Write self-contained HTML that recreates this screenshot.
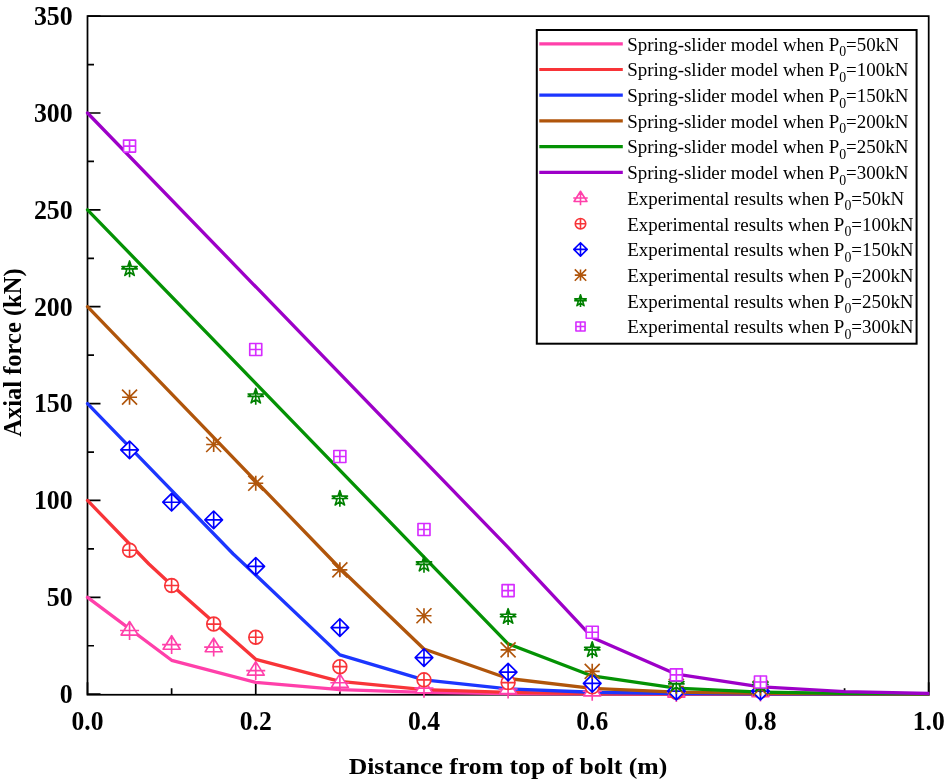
<!DOCTYPE html>
<html lang="en"><head><meta charset="utf-8"><title>Axial force vs distance from top of bolt</title>
<style>
html,body{margin:0;padding:0;background:#fff}
body{width:944px;height:782px;overflow:hidden}
svg{display:block}
text{font-family:"Liberation Serif","Times New Roman",Times,serif;fill:#000}
.tk{font-weight:bold;font-size:27.1px}
.ttl{font-weight:bold;font-size:24px}
.ytl{font-weight:bold;font-size:24.5px}
.lg{font-size:18.95px}
.sub{font-size:13.8px}
</style></head><body>
<svg width="944" height="782" viewBox="0 0 944 782">
<rect x="0" y="0" width="944" height="782" fill="#fff"/>
<rect x="87.5" y="16.11" width="841.2" height="678.64" fill="none" stroke="#000" stroke-width="1.75"/>
<path d="M87.5 694.2h13M87.5 645.77h6.5M87.5 597.33h13M87.5 548.89h6.5M87.5 500.46h13M87.5 452.03h6.5M87.5 403.59h13M87.5 355.16h6.5M87.5 306.72h13M87.5 258.29h6.5M87.5 209.85h13M87.5 161.42h6.5M87.5 112.98h13M87.5 64.55h6.5M87.5 16.11h13M87.5 694.75v-12.6M171.62 694.75v-6.6M255.74 694.75v-12.6M339.86 694.75v-6.6M423.98 694.75v-12.6M508.1 694.75v-6.6M592.22 694.75v-12.6M676.34 694.75v-6.6M760.46 694.75v-12.6M844.58 694.75v-6.6M928.7 694.75v-12.6" stroke="#000" stroke-width="1.7" fill="none"/>
<g class="tk" text-anchor="end"><text transform="translate(72.7 703.05) scale(0.955 1)">0</text><text transform="translate(72.7 606.18) scale(0.955 1)">50</text><text transform="translate(72.7 509.31) scale(0.955 1)">100</text><text transform="translate(72.7 412.44) scale(0.955 1)">150</text><text transform="translate(72.7 315.57) scale(0.955 1)">200</text><text transform="translate(72.7 218.7) scale(0.955 1)">250</text><text transform="translate(72.7 121.83) scale(0.955 1)">300</text><text transform="translate(72.7 24.96) scale(0.955 1)">350</text></g>
<g class="tk" text-anchor="middle"><text transform="translate(87.5 729.5) scale(0.945 1)">0.0</text><text transform="translate(255.74 729.5) scale(0.945 1)">0.2</text><text transform="translate(423.98 729.5) scale(0.945 1)">0.4</text><text transform="translate(592.22 729.5) scale(0.945 1)">0.6</text><text transform="translate(760.46 729.5) scale(0.945 1)">0.8</text><text transform="translate(928.7 729.5) scale(0.945 1)">1.0</text></g>
<text class="ttl" text-anchor="middle" transform="translate(508 773.9) scale(1.072 1)">Distance from top of bolt (m)</text>
<text class="ytl" text-anchor="middle" transform="translate(21.3 352.6) rotate(-90)">Axial force (kN)</text>
<clipPath id="pc"><rect x="80" y="0" width="849.5" height="782"/></clipPath>
<g fill="none" stroke-width="3.3" stroke-linejoin="round" stroke-linecap="round" clip-path="url(#pc)"><path d="M87.5 597.33L171.62 660.3L255.74 682.38L339.86 689.55L423.98 692.46L508.1 693.56L592.22 693.97L676.34 694.1L760.46 694.16L844.58 694.2L928.7 694.2" stroke="#FF40AA"/><path d="M87.5 500.46L148.91 564.01L171.62 584.93L255.74 659.33L339.86 681.41L423.98 689.55L508.1 692.46L592.22 693.56L676.34 693.97L760.46 694.1L844.58 694.16L928.7 694.2" stroke="#F83438"/><path d="M87.5 403.59L233.03 553.74L255.74 575.05L339.86 654.87L423.98 679.86L508.1 688.97L592.22 692.26L676.34 693.48L760.46 693.95L844.58 694.1L928.7 694.16" stroke="#1C36FF"/><path d="M87.5 306.72L339.86 568.27L423.98 649.06L508.1 678.51L592.22 688.39L676.34 692.07L760.46 693.43L844.58 693.91L928.7 694.1" stroke="#B0550B"/><path d="M87.5 209.85L508.1 643.83L592.22 675.99L676.34 688.19L760.46 692.07L844.58 693.33L928.7 693.87" stroke="#049204"/><path d="M87.5 112.98L508.1 547.44L592.22 637.43L676.34 674.24L760.46 686.84L844.58 691.58L928.7 693.52" stroke="#9D00C8"/></g>
<g fill="#fff" stroke="#FF40AA" stroke-width="1.65" stroke-linejoin="round"><path d="M129.56 621.56L138.06 635.06L121.06 635.06Z M120.06 630.46H139.06 M129.56 620.96V639.96"/><path d="M171.62 635.7L180.12 649.2L163.12 649.2Z M162.12 644.6H181.12 M171.62 635.1V654.1"/><path d="M213.68 638.22L222.18 651.72L205.18 651.72Z M204.18 647.12H223.18 M213.68 637.62V656.62"/><path d="M255.74 661.66L264.24 675.16L247.24 675.16Z M246.24 670.56H265.24 M255.74 661.06V680.06"/><path d="M339.86 673.87L348.36 687.37L331.36 687.37Z M330.36 682.77H349.36 M339.86 673.27V692.27"/><path d="M423.98 679.29L432.48 692.79L415.48 692.79Z M414.48 688.19H433.48 M423.98 678.69V697.69"/><path d="M508.1 680.07L516.6 693.57L499.6 693.57Z M498.6 688.97H517.6 M508.1 679.47V698.47"/><path d="M592.22 682.39L600.72 695.89L583.72 695.89Z M582.72 691.29H601.72 M592.22 681.79V700.79"/><path d="M676.34 683.56L684.84 697.06L667.84 697.06Z M666.84 692.46H685.84 M676.34 682.96V701.96"/><path d="M760.46 683.17L768.96 696.67L751.96 696.67Z M750.96 692.07H769.96 M760.46 682.57V701.57"/></g>
<g fill="#fff" stroke="#F83438" stroke-width="1.65" stroke-linejoin="round"><path d="M122.66 550.25a6.9 6.9 0 1 0 13.8 0a6.9 6.9 0 1 0 -13.8 0H136.46 M129.56 543.35V557.15"/><path d="M164.72 585.51a6.9 6.9 0 1 0 13.8 0a6.9 6.9 0 1 0 -13.8 0H178.52 M171.62 578.61V592.41"/><path d="M206.78 624.07a6.9 6.9 0 1 0 13.8 0a6.9 6.9 0 1 0 -13.8 0H220.58 M213.68 617.17V630.97"/><path d="M248.84 637.24a6.9 6.9 0 1 0 13.8 0a6.9 6.9 0 1 0 -13.8 0H262.64 M255.74 630.34V644.14"/><path d="M332.96 666.69a6.9 6.9 0 1 0 13.8 0a6.9 6.9 0 1 0 -13.8 0H346.76 M339.86 659.79V673.59"/><path d="M417.08 679.86a6.9 6.9 0 1 0 13.8 0a6.9 6.9 0 1 0 -13.8 0H430.88 M423.98 672.96V686.76"/><path d="M501.2 682.58a6.9 6.9 0 1 0 13.8 0a6.9 6.9 0 1 0 -13.8 0H515 M508.1 675.68V689.48"/><path d="M585.32 686.84a6.9 6.9 0 1 0 13.8 0a6.9 6.9 0 1 0 -13.8 0H599.12 M592.22 679.94V693.74"/><path d="M669.44 692.26a6.9 6.9 0 1 0 13.8 0a6.9 6.9 0 1 0 -13.8 0H683.24 M676.34 685.36V699.16"/><path d="M753.56 691.1a6.9 6.9 0 1 0 13.8 0a6.9 6.9 0 1 0 -13.8 0H767.36 M760.46 684.2V698"/></g>
<g fill="#fff" stroke="#0000FF" stroke-width="1.65" stroke-linejoin="round"><path d="M129.56 441.09L138.36 449.89L129.56 458.69L120.76 449.89Z M120.76 449.89H138.36 M129.56 441.09V458.69"/><path d="M171.62 493.4L180.42 502.2L171.62 511L162.82 502.2Z M162.82 502.2H180.42 M171.62 493.4V511"/><path d="M213.68 511.03L222.48 519.83L213.68 528.63L204.88 519.83Z M204.88 519.83H222.48 M213.68 511.03V528.63"/><path d="M255.74 557.53L264.54 566.33L255.74 575.13L246.94 566.33Z M246.94 566.33H264.54 M255.74 557.53V575.13"/><path d="M339.86 618.75L348.66 627.55L339.86 636.35L331.06 627.55Z M331.06 627.55H348.66 M339.86 618.75V636.35"/><path d="M423.98 648.78L432.78 657.58L423.98 666.38L415.18 657.58Z M415.18 657.58H432.78 M423.98 648.78V666.38"/><path d="M508.1 663.31L516.9 672.11L508.1 680.91L499.3 672.11Z M499.3 672.11H516.9 M508.1 663.31V680.91"/><path d="M592.22 674.55L601.02 683.35L592.22 692.15L583.42 683.35Z M583.42 683.35H601.02 M592.22 674.55V692.15"/><path d="M676.34 682.3L685.14 691.1L676.34 699.9L667.54 691.1Z M667.54 691.1H685.14 M676.34 682.3V699.9"/><path d="M760.46 682.3L769.26 691.1L760.46 699.9L751.66 691.1Z M751.66 691.1H769.26 M760.46 682.3V699.9"/></g>
<g fill="#fff" stroke="#B0550B" stroke-width="1.65" stroke-linejoin="round"><path d="M122.06 397.2H137.06 M129.56 389.7V404.7 M122.06 389.7L137.06 404.7 M122.06 404.7L137.06 389.7"/><path d="M206.18 444.47H221.18 M213.68 436.97V451.97 M206.18 436.97L221.18 451.97 M206.18 451.97L221.18 436.97"/><path d="M248.24 483.22H263.24 M255.74 475.72V490.72 M248.24 475.72L263.24 490.72 M248.24 490.72L263.24 475.72"/><path d="M332.36 569.82H347.36 M339.86 562.32V577.32 M332.36 562.32L347.36 577.32 M332.36 577.32L347.36 562.32"/><path d="M416.48 615.74H431.48 M423.98 608.24V623.24 M416.48 608.24L431.48 623.24 M416.48 623.24L431.48 608.24"/><path d="M500.6 649.83H515.6 M508.1 642.33V657.33 M500.6 642.33L515.6 657.33 M500.6 657.33L515.6 642.33"/><path d="M584.72 671.34H599.72 M592.22 663.84V678.84 M584.72 663.84L599.72 678.84 M584.72 678.84L599.72 663.84"/><path d="M668.84 686.45H683.84 M676.34 678.95V693.95 M668.84 678.95L683.84 693.95 M668.84 693.95L683.84 678.95"/><path d="M752.96 688.19H767.96 M760.46 680.69V695.69 M752.96 680.69L767.96 695.69 M752.96 695.69L767.96 680.69"/></g>
<g fill="#fff" stroke="#008000" stroke-width="1.65" stroke-linejoin="round"><path d="M129.56 260.94L131.36 266.47L137.17 266.47L132.47 269.89L134.26 275.41L129.56 272L124.86 275.41L126.65 269.89L121.95 266.47L127.76 266.47Z M121.26 268.94H137.86 M129.56 260.64V277.24"/><path d="M255.74 388.42L257.54 393.95L263.35 393.95L258.65 397.37L260.44 402.89L255.74 399.48L251.04 402.89L252.83 397.37L248.13 393.95L253.94 393.95Z M247.44 396.42H264.04 M255.74 388.12V404.72"/><path d="M339.86 490.52L341.66 496.05L347.47 496.05L342.77 499.47L344.56 504.99L339.86 501.58L335.16 504.99L336.95 499.47L332.25 496.05L338.06 496.05Z M331.56 498.52H348.16 M339.86 490.22V506.82"/><path d="M423.98 556.39L425.78 561.92L431.59 561.92L426.89 565.34L428.68 570.87L423.98 567.45L419.28 570.87L421.07 565.34L416.37 561.92L422.18 561.92Z M415.68 564.39H432.28 M423.98 556.09V572.69"/><path d="M508.1 608.7L509.9 614.23L515.71 614.23L511.01 617.65L512.8 623.18L508.1 619.76L503.4 623.18L505.19 617.65L500.49 614.23L506.3 614.23Z M499.8 616.7H516.4 M508.1 608.4V625"/><path d="M592.22 641.83L594.02 647.36L599.83 647.36L595.13 650.78L596.92 656.31L592.22 652.89L587.52 656.31L589.31 650.78L584.61 647.36L590.42 647.36Z M583.92 649.83H600.52 M592.22 641.53V658.13"/><path d="M676.34 675.93L678.14 681.46L683.95 681.46L679.25 684.88L681.04 690.4L676.34 686.99L671.64 690.4L673.43 684.88L668.73 681.46L674.54 681.46Z M668.04 683.93H684.64 M676.34 675.63V692.23"/><path d="M760.46 676.51L762.26 682.04L768.07 682.04L763.37 685.46L765.16 690.99L760.46 687.57L755.76 690.99L757.55 685.46L752.85 682.04L758.66 682.04Z M752.16 684.51H768.76 M760.46 676.21V692.81"/></g>
<g fill="#fff" stroke="#D62CFF" stroke-width="1.65" stroke-linejoin="round"><path d="M123.56 140.11H135.56V152.11H123.56Z M123.56 146.11H135.56 M129.56 140.11V152.11"/><path d="M249.74 343.54H261.74V355.54H249.74Z M249.74 349.54H261.74 M255.74 343.54V355.54"/><path d="M333.86 450.48H345.86V462.48H333.86Z M333.86 456.48H345.86 M339.86 450.48V462.48"/><path d="M417.98 523.52H429.98V535.52H417.98Z M417.98 529.52H429.98 M423.98 523.52V535.52"/><path d="M502.1 584.55H514.1V596.55H502.1Z M502.1 590.55H514.1 M508.1 584.55V596.55"/><path d="M586.22 626.2H598.22V638.2H586.22Z M586.22 632.2H598.22 M592.22 626.2V638.2"/><path d="M670.34 668.83H682.34V680.83H670.34Z M670.34 674.83H682.34 M676.34 668.83V680.83"/><path d="M754.46 675.99H766.46V687.99H754.46Z M754.46 681.99H766.46 M760.46 675.99V687.99"/></g>
<rect x="536.8" y="30.0" width="379.8" height="313.7" fill="#fff" stroke="#000" stroke-width="2"/>
<path d="M539.3 43.8H622.8" stroke="#FF40AA" stroke-width="3.2" fill="none"/><text class="lg" x="627.2" y="50.6">Spring-slider model when P<tspan class="sub" dy="5.6">0</tspan><tspan dy="-5.6">=50kN</tspan></text>
<path d="M539.3 69.5H622.8" stroke="#F83438" stroke-width="3.2" fill="none"/><text class="lg" x="627.2" y="76.3">Spring-slider model when P<tspan class="sub" dy="5.6">0</tspan><tspan dy="-5.6">=100kN</tspan></text>
<path d="M539.3 95.2H622.8" stroke="#1C36FF" stroke-width="3.2" fill="none"/><text class="lg" x="627.2" y="102">Spring-slider model when P<tspan class="sub" dy="5.6">0</tspan><tspan dy="-5.6">=150kN</tspan></text>
<path d="M539.3 120.9H622.8" stroke="#B0550B" stroke-width="3.2" fill="none"/><text class="lg" x="627.2" y="127.7">Spring-slider model when P<tspan class="sub" dy="5.6">0</tspan><tspan dy="-5.6">=200kN</tspan></text>
<path d="M539.3 146.6H622.8" stroke="#049204" stroke-width="3.2" fill="none"/><text class="lg" x="627.2" y="153.4">Spring-slider model when P<tspan class="sub" dy="5.6">0</tspan><tspan dy="-5.6">=250kN</tspan></text>
<path d="M539.3 172.3H622.8" stroke="#9D00C8" stroke-width="3.2" fill="none"/><text class="lg" x="627.2" y="179.1">Spring-slider model when P<tspan class="sub" dy="5.6">0</tspan><tspan dy="-5.6">=300kN</tspan></text>
<g fill="#fff" stroke="#FF40AA" stroke-width="1.6" stroke-linejoin="round"><path d="M580.5 191.24L586.96 201.5L574.04 201.5Z M573.28 198H587.72 M580.5 190.78V205.22"/></g><text class="lg" x="627.2" y="204.8">Experimental results when P<tspan class="sub" dy="5.6">0</tspan><tspan dy="-5.6">=50kN</tspan></text>
<g fill="#fff" stroke="#F83438" stroke-width="1.6" stroke-linejoin="round"><path d="M575.26 223.7a5.24 5.24 0 1 0 10.49 0a5.24 5.24 0 1 0 -10.49 0H585.74 M580.5 218.46V228.94"/></g><text class="lg" x="627.2" y="230.5">Experimental results when P<tspan class="sub" dy="5.6">0</tspan><tspan dy="-5.6">=100kN</tspan></text>
<g fill="#fff" stroke="#0000FF" stroke-width="1.6" stroke-linejoin="round"><path d="M580.5 242.71L587.19 249.4L580.5 256.09L573.81 249.4Z M573.81 249.4H587.19 M580.5 242.71V256.09"/></g><text class="lg" x="627.2" y="256.2">Experimental results when P<tspan class="sub" dy="5.6">0</tspan><tspan dy="-5.6">=150kN</tspan></text>
<g fill="#fff" stroke="#B0550B" stroke-width="1.6" stroke-linejoin="round"><path d="M574.8 275.1H586.2 M580.5 269.4V280.8 M574.8 269.4L586.2 280.8 M574.8 280.8L586.2 269.4"/></g><text class="lg" x="627.2" y="281.9">Experimental results when P<tspan class="sub" dy="5.6">0</tspan><tspan dy="-5.6">=200kN</tspan></text>
<g fill="#fff" stroke="#008000" stroke-width="1.6" stroke-linejoin="round"><path d="M580.5 294.72L581.87 298.92L586.28 298.92L582.71 301.52L584.07 305.72L580.5 303.12L576.93 305.72L578.29 301.52L574.72 298.92L579.13 298.92Z M574.19 300.8H586.81 M580.5 294.49V307.11"/></g><text class="lg" x="627.2" y="307.6">Experimental results when P<tspan class="sub" dy="5.6">0</tspan><tspan dy="-5.6">=250kN</tspan></text>
<g fill="#fff" stroke="#D62CFF" stroke-width="1.6" stroke-linejoin="round"><path d="M575.94 321.94H585.06V331.06H575.94Z M575.94 326.5H585.06 M580.5 321.94V331.06"/></g><text class="lg" x="627.2" y="333.3">Experimental results when P<tspan class="sub" dy="5.6">0</tspan><tspan dy="-5.6">=300kN</tspan></text>
</svg>
</body></html>
